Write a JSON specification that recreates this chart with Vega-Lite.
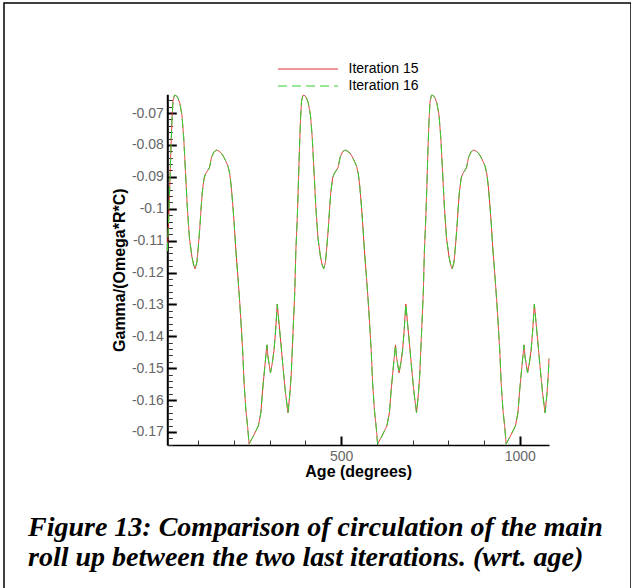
{
  "$schema": "https://vega.github.io/schema/vega-lite/v6.json",
  "width": 627,
  "height": 586,
  "padding": {"left": 4, "top": 3, "right": 0, "bottom": 0},
  "background": "white",
  "title": {
    "text": ["Figure 13: Comparison of circulation of the main", "roll up between the two last iterations. (wrt. age)"],
    "orient": "bottom",
    "anchor": "start",
    "frame": "group",
    "offset": -75,
    "dx": 24,
    "font": "Liberation Serif",
    "fontSize": 28,
    "fontStyle": "italic",
    "fontWeight": "bold",
    "color": "black",
    "lineHeight": 30
  },
  "data": {"values": [
    {"deg":13,"Iteration 15":-0.1133,"Iteration 16":-0.1133},
    {"deg":17,"Iteration 15":-0.1029,"Iteration 16":-0.1029},
    {"deg":20,"Iteration 15":-0.0926,"Iteration 16":-0.0926},
    {"deg":23,"Iteration 15":-0.0816,"Iteration 16":-0.0816},
    {"deg":26,"Iteration 15":-0.0722,"Iteration 16":-0.0722},
    {"deg":29,"Iteration 15":-0.0662,"Iteration 16":-0.0662},
    {"deg":33,"Iteration 15":-0.0644,"Iteration 16":-0.0644},
    {"deg":38,"Iteration 15":-0.0645,"Iteration 16":-0.0645},
    {"deg":43,"Iteration 15":-0.0653,"Iteration 16":-0.0653},
    {"deg":48,"Iteration 15":-0.0669,"Iteration 16":-0.0669},
    {"deg":54,"Iteration 15":-0.0706,"Iteration 16":-0.0706},
    {"deg":59,"Iteration 15":-0.0778,"Iteration 16":-0.0778},
    {"deg":64,"Iteration 15":-0.0885,"Iteration 16":-0.0885},
    {"deg":69,"Iteration 15":-0.0995,"Iteration 16":-0.0995},
    {"deg":75,"Iteration 15":-0.1092,"Iteration 16":-0.1092},
    {"deg":82,"Iteration 15":-0.1151,"Iteration 16":-0.1151},
    {"deg":87,"Iteration 15":-0.1177,"Iteration 16":-0.1177},
    {"deg":91,"Iteration 15":-0.1189,"Iteration 16":-0.1189},
    {"deg":96,"Iteration 15":-0.1167,"Iteration 16":-0.1167},
    {"deg":100,"Iteration 15":-0.1117,"Iteration 16":-0.1117},
    {"deg":104,"Iteration 15":-0.1061,"Iteration 16":-0.1061},
    {"deg":108,"Iteration 15":-0.0992,"Iteration 16":-0.0992},
    {"deg":111,"Iteration 15":-0.0948,"Iteration 16":-0.0948},
    {"deg":116,"Iteration 15":-0.0904,"Iteration 16":-0.0904},
    {"deg":120,"Iteration 15":-0.0891,"Iteration 16":-0.0891},
    {"deg":125,"Iteration 15":-0.0882,"Iteration 16":-0.0882},
    {"deg":131,"Iteration 15":-0.0871,"Iteration 16":-0.0871},
    {"deg":137,"Iteration 15":-0.0838,"Iteration 16":-0.0838},
    {"deg":144,"Iteration 15":-0.0821,"Iteration 16":-0.0821},
    {"deg":151,"Iteration 15":-0.0816,"Iteration 16":-0.0816},
    {"deg":157,"Iteration 15":-0.0819,"Iteration 16":-0.0819},
    {"deg":164,"Iteration 15":-0.0825,"Iteration 16":-0.0825},
    {"deg":170,"Iteration 15":-0.0835,"Iteration 16":-0.0835},
    {"deg":177,"Iteration 15":-0.0851,"Iteration 16":-0.0851},
    {"deg":183,"Iteration 15":-0.0866,"Iteration 16":-0.0866},
    {"deg":188,"Iteration 15":-0.0891,"Iteration 16":-0.0891},
    {"deg":192,"Iteration 15":-0.0929,"Iteration 16":-0.0929},
    {"deg":196,"Iteration 15":-0.0982,"Iteration 16":-0.0982},
    {"deg":200,"Iteration 15":-0.1042,"Iteration 16":-0.1042},
    {"deg":205,"Iteration 15":-0.1130,"Iteration 16":-0.1130},
    {"deg":211,"Iteration 15":-0.1217,"Iteration 16":-0.1217},
    {"deg":216,"Iteration 15":-0.1296,"Iteration 16":-0.1296},
    {"deg":219,"Iteration 15":-0.1349,"Iteration 16":-0.1349},
    {"deg":224,"Iteration 15":-0.1443,"Iteration 16":-0.1443},
    {"deg":228,"Iteration 15":-0.1546,"Iteration 16":-0.1546},
    {"deg":233,"Iteration 15":-0.1631,"Iteration 16":-0.1631},
    {"deg":238,"Iteration 15":-0.1684,"Iteration 16":-0.1684},
    {"deg":242,"Iteration 15":-0.1738,"Iteration 16":-0.1738},
    {"deg":248,"Iteration 15":-0.1725,"Iteration 16":-0.1725},
    {"deg":254,"Iteration 15":-0.1713,"Iteration 16":-0.1713},
    {"deg":261,"Iteration 15":-0.1697,"Iteration 16":-0.1697},
    {"deg":268,"Iteration 15":-0.1681,"Iteration 16":-0.1681},
    {"deg":275,"Iteration 15":-0.1640,"Iteration 16":-0.1640},
    {"deg":280,"Iteration 15":-0.1568,"Iteration 16":-0.1568},
    {"deg":286,"Iteration 15":-0.1496,"Iteration 16":-0.1496},
    {"deg":292,"Iteration 15":-0.1427,"Iteration 16":-0.1427},
    {"deg":295,"Iteration 15":-0.1465,"Iteration 16":-0.1465},
    {"deg":302,"Iteration 15":-0.1515,"Iteration 16":-0.1515},
    {"deg":307,"Iteration 15":-0.1484,"Iteration 16":-0.1484},
    {"deg":312,"Iteration 15":-0.1443,"Iteration 16":-0.1443},
    {"deg":316,"Iteration 15":-0.1387,"Iteration 16":-0.1387},
    {"deg":321,"Iteration 15":-0.1299,"Iteration 16":-0.1299},
    {"deg":325,"Iteration 15":-0.1349,"Iteration 16":-0.1349},
    {"deg":331,"Iteration 15":-0.1421,"Iteration 16":-0.1421},
    {"deg":337,"Iteration 15":-0.1496,"Iteration 16":-0.1496},
    {"deg":344,"Iteration 15":-0.1578,"Iteration 16":-0.1578},
    {"deg":351,"Iteration 15":-0.1640,"Iteration 16":-0.1640},
    {"deg":356,"Iteration 15":-0.1584,"Iteration 16":-0.1584},
    {"deg":360,"Iteration 15":-0.1521,"Iteration 16":-0.1521},
    {"deg":365,"Iteration 15":-0.1390,"Iteration 16":-0.1390},
    {"deg":370,"Iteration 15":-0.1261,"Iteration 16":-0.1261},
    {"deg":373,"Iteration 15":-0.1133,"Iteration 16":-0.1133},
    {"deg":377,"Iteration 15":-0.1029,"Iteration 16":-0.1029},
    {"deg":380,"Iteration 15":-0.0926,"Iteration 16":-0.0926},
    {"deg":383,"Iteration 15":-0.0816,"Iteration 16":-0.0816},
    {"deg":386,"Iteration 15":-0.0722,"Iteration 16":-0.0722},
    {"deg":389,"Iteration 15":-0.0662,"Iteration 16":-0.0662},
    {"deg":393,"Iteration 15":-0.0644,"Iteration 16":-0.0644},
    {"deg":398,"Iteration 15":-0.0645,"Iteration 16":-0.0645},
    {"deg":403,"Iteration 15":-0.0653,"Iteration 16":-0.0653},
    {"deg":408,"Iteration 15":-0.0669,"Iteration 16":-0.0669},
    {"deg":414,"Iteration 15":-0.0706,"Iteration 16":-0.0706},
    {"deg":419,"Iteration 15":-0.0778,"Iteration 16":-0.0778},
    {"deg":424,"Iteration 15":-0.0885,"Iteration 16":-0.0885},
    {"deg":429,"Iteration 15":-0.0995,"Iteration 16":-0.0995},
    {"deg":435,"Iteration 15":-0.1092,"Iteration 16":-0.1092},
    {"deg":442,"Iteration 15":-0.1151,"Iteration 16":-0.1151},
    {"deg":447,"Iteration 15":-0.1177,"Iteration 16":-0.1177},
    {"deg":451,"Iteration 15":-0.1189,"Iteration 16":-0.1189},
    {"deg":456,"Iteration 15":-0.1167,"Iteration 16":-0.1167},
    {"deg":460,"Iteration 15":-0.1117,"Iteration 16":-0.1117},
    {"deg":464,"Iteration 15":-0.1061,"Iteration 16":-0.1061},
    {"deg":468,"Iteration 15":-0.0992,"Iteration 16":-0.0992},
    {"deg":471,"Iteration 15":-0.0948,"Iteration 16":-0.0948},
    {"deg":476,"Iteration 15":-0.0904,"Iteration 16":-0.0904},
    {"deg":480,"Iteration 15":-0.0891,"Iteration 16":-0.0891},
    {"deg":485,"Iteration 15":-0.0882,"Iteration 16":-0.0882},
    {"deg":491,"Iteration 15":-0.0871,"Iteration 16":-0.0871},
    {"deg":497,"Iteration 15":-0.0838,"Iteration 16":-0.0838},
    {"deg":504,"Iteration 15":-0.0821,"Iteration 16":-0.0821},
    {"deg":511,"Iteration 15":-0.0816,"Iteration 16":-0.0816},
    {"deg":517,"Iteration 15":-0.0819,"Iteration 16":-0.0819},
    {"deg":524,"Iteration 15":-0.0825,"Iteration 16":-0.0825},
    {"deg":530,"Iteration 15":-0.0835,"Iteration 16":-0.0835},
    {"deg":537,"Iteration 15":-0.0851,"Iteration 16":-0.0851},
    {"deg":543,"Iteration 15":-0.0866,"Iteration 16":-0.0866},
    {"deg":548,"Iteration 15":-0.0891,"Iteration 16":-0.0891},
    {"deg":552,"Iteration 15":-0.0929,"Iteration 16":-0.0929},
    {"deg":556,"Iteration 15":-0.0982,"Iteration 16":-0.0982},
    {"deg":560,"Iteration 15":-0.1042,"Iteration 16":-0.1042},
    {"deg":565,"Iteration 15":-0.1130,"Iteration 16":-0.1130},
    {"deg":571,"Iteration 15":-0.1217,"Iteration 16":-0.1217},
    {"deg":576,"Iteration 15":-0.1296,"Iteration 16":-0.1296},
    {"deg":579,"Iteration 15":-0.1349,"Iteration 16":-0.1349},
    {"deg":584,"Iteration 15":-0.1443,"Iteration 16":-0.1443},
    {"deg":588,"Iteration 15":-0.1546,"Iteration 16":-0.1546},
    {"deg":593,"Iteration 15":-0.1631,"Iteration 16":-0.1631},
    {"deg":598,"Iteration 15":-0.1684,"Iteration 16":-0.1684},
    {"deg":602,"Iteration 15":-0.1738,"Iteration 16":-0.1738},
    {"deg":608,"Iteration 15":-0.1725,"Iteration 16":-0.1725},
    {"deg":614,"Iteration 15":-0.1713,"Iteration 16":-0.1713},
    {"deg":621,"Iteration 15":-0.1697,"Iteration 16":-0.1697},
    {"deg":628,"Iteration 15":-0.1681,"Iteration 16":-0.1681},
    {"deg":635,"Iteration 15":-0.1640,"Iteration 16":-0.1640},
    {"deg":640,"Iteration 15":-0.1568,"Iteration 16":-0.1568},
    {"deg":646,"Iteration 15":-0.1496,"Iteration 16":-0.1496},
    {"deg":652,"Iteration 15":-0.1427,"Iteration 16":-0.1427},
    {"deg":655,"Iteration 15":-0.1465,"Iteration 16":-0.1465},
    {"deg":662,"Iteration 15":-0.1515,"Iteration 16":-0.1515},
    {"deg":667,"Iteration 15":-0.1484,"Iteration 16":-0.1484},
    {"deg":672,"Iteration 15":-0.1443,"Iteration 16":-0.1443},
    {"deg":676,"Iteration 15":-0.1387,"Iteration 16":-0.1387},
    {"deg":681,"Iteration 15":-0.1299,"Iteration 16":-0.1299},
    {"deg":685,"Iteration 15":-0.1349,"Iteration 16":-0.1349},
    {"deg":691,"Iteration 15":-0.1421,"Iteration 16":-0.1421},
    {"deg":697,"Iteration 15":-0.1496,"Iteration 16":-0.1496},
    {"deg":704,"Iteration 15":-0.1578,"Iteration 16":-0.1578},
    {"deg":711,"Iteration 15":-0.1640,"Iteration 16":-0.1640},
    {"deg":716,"Iteration 15":-0.1584,"Iteration 16":-0.1584},
    {"deg":720,"Iteration 15":-0.1521,"Iteration 16":-0.1521},
    {"deg":725,"Iteration 15":-0.1390,"Iteration 16":-0.1390},
    {"deg":730,"Iteration 15":-0.1261,"Iteration 16":-0.1261},
    {"deg":733,"Iteration 15":-0.1133,"Iteration 16":-0.1133},
    {"deg":737,"Iteration 15":-0.1029,"Iteration 16":-0.1029},
    {"deg":740,"Iteration 15":-0.0926,"Iteration 16":-0.0926},
    {"deg":743,"Iteration 15":-0.0816,"Iteration 16":-0.0816},
    {"deg":746,"Iteration 15":-0.0722,"Iteration 16":-0.0722},
    {"deg":749,"Iteration 15":-0.0662,"Iteration 16":-0.0662},
    {"deg":753,"Iteration 15":-0.0644,"Iteration 16":-0.0644},
    {"deg":758,"Iteration 15":-0.0645,"Iteration 16":-0.0645},
    {"deg":763,"Iteration 15":-0.0653,"Iteration 16":-0.0653},
    {"deg":768,"Iteration 15":-0.0669,"Iteration 16":-0.0669},
    {"deg":774,"Iteration 15":-0.0706,"Iteration 16":-0.0706},
    {"deg":779,"Iteration 15":-0.0778,"Iteration 16":-0.0778},
    {"deg":784,"Iteration 15":-0.0885,"Iteration 16":-0.0885},
    {"deg":789,"Iteration 15":-0.0995,"Iteration 16":-0.0995},
    {"deg":795,"Iteration 15":-0.1092,"Iteration 16":-0.1092},
    {"deg":802,"Iteration 15":-0.1151,"Iteration 16":-0.1151},
    {"deg":807,"Iteration 15":-0.1177,"Iteration 16":-0.1177},
    {"deg":811,"Iteration 15":-0.1189,"Iteration 16":-0.1189},
    {"deg":816,"Iteration 15":-0.1167,"Iteration 16":-0.1167},
    {"deg":820,"Iteration 15":-0.1117,"Iteration 16":-0.1117},
    {"deg":824,"Iteration 15":-0.1061,"Iteration 16":-0.1061},
    {"deg":828,"Iteration 15":-0.0992,"Iteration 16":-0.0992},
    {"deg":831,"Iteration 15":-0.0948,"Iteration 16":-0.0948},
    {"deg":836,"Iteration 15":-0.0904,"Iteration 16":-0.0904},
    {"deg":840,"Iteration 15":-0.0891,"Iteration 16":-0.0891},
    {"deg":845,"Iteration 15":-0.0882,"Iteration 16":-0.0882},
    {"deg":851,"Iteration 15":-0.0871,"Iteration 16":-0.0871},
    {"deg":857,"Iteration 15":-0.0838,"Iteration 16":-0.0838},
    {"deg":864,"Iteration 15":-0.0821,"Iteration 16":-0.0821},
    {"deg":871,"Iteration 15":-0.0816,"Iteration 16":-0.0816},
    {"deg":877,"Iteration 15":-0.0819,"Iteration 16":-0.0819},
    {"deg":884,"Iteration 15":-0.0825,"Iteration 16":-0.0825},
    {"deg":890,"Iteration 15":-0.0835,"Iteration 16":-0.0835},
    {"deg":897,"Iteration 15":-0.0851,"Iteration 16":-0.0851},
    {"deg":903,"Iteration 15":-0.0866,"Iteration 16":-0.0866},
    {"deg":908,"Iteration 15":-0.0891,"Iteration 16":-0.0891},
    {"deg":912,"Iteration 15":-0.0929,"Iteration 16":-0.0929},
    {"deg":916,"Iteration 15":-0.0982,"Iteration 16":-0.0982},
    {"deg":920,"Iteration 15":-0.1042,"Iteration 16":-0.1042},
    {"deg":925,"Iteration 15":-0.1130,"Iteration 16":-0.1130},
    {"deg":931,"Iteration 15":-0.1217,"Iteration 16":-0.1217},
    {"deg":936,"Iteration 15":-0.1296,"Iteration 16":-0.1296},
    {"deg":939,"Iteration 15":-0.1349,"Iteration 16":-0.1349},
    {"deg":944,"Iteration 15":-0.1443,"Iteration 16":-0.1443},
    {"deg":948,"Iteration 15":-0.1546,"Iteration 16":-0.1546},
    {"deg":953,"Iteration 15":-0.1631,"Iteration 16":-0.1631},
    {"deg":958,"Iteration 15":-0.1684,"Iteration 16":-0.1684},
    {"deg":962,"Iteration 15":-0.1738,"Iteration 16":-0.1738},
    {"deg":968,"Iteration 15":-0.1725,"Iteration 16":-0.1725},
    {"deg":974,"Iteration 15":-0.1713,"Iteration 16":-0.1713},
    {"deg":981,"Iteration 15":-0.1697,"Iteration 16":-0.1697},
    {"deg":988,"Iteration 15":-0.1681,"Iteration 16":-0.1681},
    {"deg":995,"Iteration 15":-0.1640,"Iteration 16":-0.1640},
    {"deg":1000,"Iteration 15":-0.1568,"Iteration 16":-0.1568},
    {"deg":1006,"Iteration 15":-0.1496,"Iteration 16":-0.1496},
    {"deg":1012,"Iteration 15":-0.1427,"Iteration 16":-0.1427},
    {"deg":1015,"Iteration 15":-0.1465,"Iteration 16":-0.1465},
    {"deg":1022,"Iteration 15":-0.1515,"Iteration 16":-0.1515},
    {"deg":1027,"Iteration 15":-0.1484,"Iteration 16":-0.1484},
    {"deg":1032,"Iteration 15":-0.1443,"Iteration 16":-0.1443},
    {"deg":1036,"Iteration 15":-0.1387,"Iteration 16":-0.1387},
    {"deg":1041,"Iteration 15":-0.1299,"Iteration 16":-0.1299},
    {"deg":1045,"Iteration 15":-0.1349,"Iteration 16":-0.1349},
    {"deg":1051,"Iteration 15":-0.1421,"Iteration 16":-0.1421},
    {"deg":1057,"Iteration 15":-0.1496,"Iteration 16":-0.1496},
    {"deg":1064,"Iteration 15":-0.1578,"Iteration 16":-0.1578},
    {"deg":1071,"Iteration 15":-0.1640,"Iteration 16":-0.1640},
    {"deg":1076,"Iteration 15":-0.1584,"Iteration 16":-0.1584},
    {"deg":1080,"Iteration 15":-0.1521,"Iteration 16":-0.1521},
    {"deg":1082,"Iteration 15":-0.1470,"Iteration 16":-0.1470}
  ]},
  "resolve": {"axis": {"x": "independent", "y": "independent"}},
  "layer": [
    {
      "transform": [{"fold": ["Iteration 15", "Iteration 16"], "as": ["series", "value"]}],
      "mark": {"type": "line", "strokeWidth": 1},
      "encoding": {
        "x": {
          "field": "deg", "type": "quantitative",
          "scale": {"domain": [13, 1082], "range": [163.3, 545], "nice": false, "zero": false},
          "axis": {
            "orient": "bottom", "offset": -144, "values": [500, 1000], "format": "d",
            "ticks": false, "grid": false, "domain": true, "domainColor": "black", "domainWidth": 1.5,
            "labelColor": "#666666", "labelFont": "Liberation Sans", "labelFontSize": 14, "labelPadding": 4,
            "title": "Age (degrees)", "titleFont": "Liberation Sans", "titleFontSize": 16, "titleFontWeight": "bold",
            "titleColor": "black", "titlePadding": 0
          }
        },
        "y": {
          "field": "value", "type": "quantitative",
          "scale": {"domain": [-0.1741, -0.0641], "range": [442, 91.3], "nice": false, "zero": false},
          "axis": {
            "orient": "left", "offset": -163.3,
            "values": [-0.07, -0.08, -0.09, -0.1, -0.11, -0.12, -0.13, -0.14, -0.15, -0.16, -0.17],
            "format": ".2~f",
            "labelExpr": "replace(datum.label, '\u2212', '-')",
            "ticks": false, "grid": false, "domain": true, "domainColor": "black", "domainWidth": 2,
            "labelColor": "#666666", "labelFont": "Liberation Sans", "labelFontSize": 14, "labelPadding": 4,
            "title": "Gamma/(Omega*R*C)", "titleFont": "Liberation Sans", "titleFontSize": 16, "titleFontWeight": "bold",
            "titleColor": "black", "titlePadding": 4
          }
        },
        "color": {
          "field": "series", "type": "nominal",
          "scale": {"domain": ["Iteration 15", "Iteration 16"], "range": ["#e03030", "#30d030"]},
          "legend": {
            "orient": "none", "legendX": 297, "legendY": 59, "title": null,
            "symbolType": "M-6,0H6", "symbolSize": 100, "symbolStrokeWidth": 1,
            "labelFont": "Liberation Sans", "labelFontSize": 14, "labelColor": "black",
            "labelOffset": 33.5, "rowPadding": 3, "padding": 0
          }
        },
        "strokeDash": {
          "field": "series", "type": "nominal",
          "scale": {"domain": ["Iteration 15", "Iteration 16"], "range": [[1, 0], [9, 5]]},
          "legend": {
            "orient": "none", "legendX": 297, "legendY": 59, "title": null,
            "symbolType": "M-6,0H6", "symbolSize": 100, "symbolStrokeWidth": 1,
            "labelFont": "Liberation Sans", "labelFontSize": 14, "labelColor": "black",
            "labelOffset": 33.5, "rowPadding": 3, "padding": 0
          }
        }
      }
    },
    {
      "mark": {"type": "line", "opacity": 0},
      "encoding": {
        "x": {
          "field": "deg", "type": "quantitative",
          "axis": {
            "orient": "bottom", "offset": -144, "values": [500, 1000], "labels": false, "domain": false,
            "grid": false, "title": null, "ticks": true, "tickSize": -9, "tickWidth": 2, "tickColor": "black"
          }
        },
        "y": {
          "field": "Iteration 15", "type": "quantitative",
          "axis": {
            "orient": "left", "offset": -163.3,
            "values": [-0.07, -0.08, -0.09, -0.1, -0.11, -0.12, -0.13, -0.14, -0.15, -0.16, -0.17],
            "labels": false, "domain": false, "grid": false, "title": null,
            "ticks": true, "tickSize": -9, "tickWidth": 2, "tickColor": "black"
          }
        }
      }
    },
    {
      "mark": {"type": "line", "opacity": 0},
      "encoding": {
        "x": {
          "field": "deg", "type": "quantitative",
          "axis": {
            "orient": "bottom", "offset": -144, "values": [100, 200, 300, 400, 600, 700, 800, 900], "labels": false, "domain": false,
            "grid": false, "title": null, "ticks": true, "tickSize": -5, "tickWidth": 1, "tickColor": "#333333"
          }
        },
        "y": {
          "field": "Iteration 15", "type": "quantitative",
          "axis": {
            "orient": "left", "offset": -163.3,
            "values": [-0.066, -0.068, -0.072, -0.074, -0.076, -0.078, -0.082, -0.084, -0.086, -0.088, -0.092, -0.094, -0.096, -0.098, -0.102, -0.104, -0.106, -0.108, -0.112, -0.114, -0.116, -0.118, -0.122, -0.124, -0.126, -0.128, -0.132, -0.134, -0.136, -0.138, -0.142, -0.144, -0.146, -0.148, -0.152, -0.154, -0.156, -0.158, -0.162, -0.164, -0.166, -0.168, -0.172, -0.174],
            "labels": false, "domain": false, "grid": false, "title": null,
            "ticks": true, "tickSize": -5, "tickWidth": 1, "tickColor": "#333333"
          }
        }
      }
    }
  ],
  "config": {
    "view": {"stroke": "black", "strokeWidth": 1.5, "fill": "white"},
    "axis": {"grid": false}
  }
}
